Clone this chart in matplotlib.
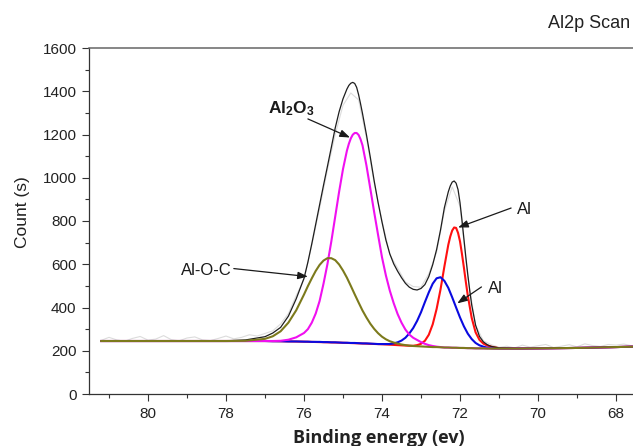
import matplotlib
matplotlib.use('Agg')
import matplotlib.pyplot as plt
from matplotlib.ticker import MultipleLocator

plt.rcParams['font.family'] = ['Liberation Sans', 'DejaVu Sans']
plt.rcParams['mathtext.default'] = 'regular'

# ---------------- data ----------------
energy = [81.2, 80.0, 79.0, 78.0, 77.5, 77.0, 76.8, 76.6, 76.4, 76.2,
          76.0, 75.9, 75.8, 75.7, 75.6, 75.5, 75.4, 75.3, 75.2, 75.1,
          75.0, 74.9, 74.8, 74.7, 74.6, 74.5, 74.4, 74.3, 74.2, 74.1,
          74.0, 73.9, 73.8, 73.7, 73.6, 73.5, 73.4, 73.3, 73.2, 73.1,
          73.0, 72.9, 72.8, 72.7, 72.6, 72.5, 72.4, 72.3, 72.2, 72.1,
          72.0, 71.9, 71.8, 71.7, 71.6, 71.5, 71.4, 71.3, 71.2,
          71.0, 70.5, 70.0, 69.0, 68.0, 67.56]

al_blue = [245, 245, 245, 245, 245, 245, 244, 244, 243, 243,
           242, 242, 241, 241, 241, 240, 240, 239, 239, 238,
           237, 237, 236, 236, 235, 234, 234, 233, 232, 231,
           231, 231, 231, 234, 239, 247, 260, 280, 305, 338,
           378, 425, 470, 510, 535, 540, 523, 491, 447, 400,
           354, 313, 279, 254, 236, 225, 219, 214, 212,
           210, 210, 211, 213, 217, 219]

al_o_c = [245, 245, 245, 245, 246, 255, 267, 290, 330, 387,
          460, 499, 535, 569, 597, 617, 628, 628, 619, 599,
          571, 538, 500, 461, 423, 386, 354, 325, 301, 281,
          265, 253, 244, 238, 233, 229, 226, 224, 222, 221,
          220, 219, 218, 217, 217, 216, 215, 215, 214, 214,
          213, 213, 212, 212, 211, 211, 211, 210, 210,
          210, 210, 211, 213, 217, 219]

red_energy = [81.2, 80.0, 79.0, 78.0, 77.0, 76.0, 75.0, 74.0, 73.5, 73.3,
              73.2, 73.1, 73.0, 72.9, 72.8, 72.7, 72.6, 72.5, 72.4, 72.3,
              72.25, 72.2, 72.15, 72.1, 72.05, 72.0, 71.95, 71.9, 71.85, 71.8,
              71.7, 71.6, 71.5, 71.4, 71.3, 71.2, 71.0, 70.5, 70.0, 69.0,
              68.0, 67.56]
al_red = [245, 245, 245, 245, 245, 242, 237, 230, 225, 223,
          223, 226, 232, 246, 274, 322, 393, 483, 590, 690,
          728, 756, 770, 768, 745, 706, 648, 585, 518, 455,
          352, 285, 250, 233, 224, 219, 212, 210, 211, 213,
          217, 219]

mag_energy = [81.2, 80.0, 79.0, 78.0, 77.0, 76.8, 76.6, 76.4, 76.2, 76.0,
              75.9, 75.8, 75.7, 75.6, 75.5, 75.4, 75.3, 75.2, 75.1, 75.0,
              74.9, 74.85, 74.8, 74.75, 74.7, 74.65, 74.6, 74.55, 74.5, 74.4,
              74.3, 74.2, 74.1, 74.0, 73.9, 73.8, 73.7, 73.6, 73.5, 73.4,
              73.3, 73.2, 73.1, 73.0, 72.9, 72.8, 72.7, 72.6, 72.5, 72.4,
              72.0, 71.5, 71.0, 70.0, 69.0, 68.0, 67.56]
al2o3 = [245, 245, 245, 245, 245, 245, 246, 251, 262, 282,
         300, 330, 372, 430, 510, 600, 705, 820, 935, 1040,
         1125, 1157, 1182, 1199, 1207, 1207, 1198, 1178, 1150, 1058,
         950, 840, 735, 632, 548, 478, 420, 370, 330, 298,
         275, 260, 250, 240, 232, 226, 222, 219, 217, 215,
         213, 211, 210, 211, 213, 217, 219]

env_energy = [81.2, 80.0, 79.0, 78.0, 77.5, 77.0, 76.8, 76.6, 76.4, 76.2,
              76.0, 75.9, 75.8, 75.7, 75.6, 75.5, 75.4, 75.3, 75.2, 75.1,
              75.0, 74.9, 74.85, 74.8, 74.75, 74.7, 74.65, 74.6, 74.55, 74.5,
              74.4, 74.3, 74.2, 74.1, 74.0, 73.9, 73.8, 73.7, 73.6, 73.5,
              73.4, 73.3, 73.2, 73.1, 73.0, 72.9, 72.8, 72.7, 72.6, 72.5,
              72.4, 72.3, 72.25, 72.2, 72.15, 72.1, 72.05, 72.0, 71.95, 71.9,
              71.85, 71.8, 71.75, 71.7, 71.6, 71.5, 71.4, 71.3, 71.2, 71.0,
              70.5, 70.0, 69.0, 68.0, 67.56]
envelope = [245, 245, 245, 246, 250, 265, 282, 308, 360, 440,
            535, 610, 695, 785, 875, 965, 1052, 1140, 1230, 1305,
            1365, 1410, 1427, 1437, 1441, 1436, 1418, 1384, 1342, 1297,
            1200, 1095, 985, 885, 795, 712, 648, 602, 568, 538,
            512, 494, 484, 481, 488, 506, 543, 598, 668, 758,
            862, 935, 962, 980, 985, 975, 945, 885, 805, 718,
            632, 552, 478, 412, 318, 266, 241, 228, 220, 213,
            211, 211, 213, 217, 219]

raw_energy = [81.2, 81.0, 80.8, 80.6, 80.4, 80.2, 80.0, 79.8, 79.6, 79.4,
              79.2, 79.0, 78.8, 78.6, 78.4, 78.2, 78.0, 77.8, 77.6, 77.4,
              77.2, 77.0, 76.8, 76.6, 76.4, 76.2, 76.0, 75.8, 75.6, 75.4,
              75.2, 75.0, 74.8, 74.6, 74.4, 74.2, 74.0, 73.8, 73.6, 73.4,
              73.2, 73.0, 72.8, 72.6, 72.4, 72.2, 72.0, 71.8, 71.6, 71.4,
              71.2, 71.0, 70.8, 70.6, 70.4, 70.2, 70.0, 69.8, 69.6, 69.4,
              69.2, 69.0, 68.8, 68.6, 68.4, 68.2, 68.0, 67.8, 67.6]
raw_counts = [248, 262, 250, 244, 257, 266, 249, 254, 270, 251,
              246, 259, 264, 250, 247, 257, 268, 255, 262, 274,
              268, 280, 292, 324, 372, 455, 530, 688, 858, 1035,
              1200, 1335, 1392, 1360, 1185, 975, 802, 645, 582, 518,
              497, 494, 556, 655, 845, 958, 868, 540, 318, 246,
              228, 216, 221, 213, 226, 217, 223, 229, 215, 221,
              228, 218, 232, 224, 220, 229, 226, 231, 223]

x_ticks = [80, 78, 76, 74, 72, 70, 68]
y_ticks = [0, 200, 400, 600, 800, 1000, 1200, 1400, 1600]

labels = ['Al$_2$O$_3$', 'Al-O-C', 'Al', 'Al']
label_pos = [(76.33, 1318), (78.50, 569), (70.36, 853), (71.10, 486)]
arrow_tail = [(75.90, 1272), (77.80, 580), (70.69, 860), (71.45, 495)]
arrow_head = [(74.82, 1186), (75.90, 543), (72.05, 770), (72.07, 419)]

# ---------------- figure ----------------
fig = plt.figure(figsize=(6.33, 4.46), dpi=100)
ax = fig.add_axes([89 / 633, 52 / 446, 544 / 633, 346 / 446])

ax.plot(raw_energy, raw_counts, color='#dcdcdc', lw=0.8, zorder=1)
ax.plot(red_energy, al_red, color='#ff1010', lw=1.5, zorder=2)
ax.plot(energy, al_blue, color='#0a0ae0', lw=1.5, zorder=3)
ax.plot(mag_energy, al2o3, color='#f010f0', lw=1.5, zorder=4)
ax.plot(env_energy, envelope, color='#1e1e1e', lw=0.9, zorder=5)
ax.plot(energy, al_o_c, color='#7c7a1c', lw=1.5, zorder=6)

ax.set_xlim(81.513, 67.564)
ax.set_ylim(0, 1600)
ax.set_xticks(x_ticks)
ax.set_yticks(y_ticks)
ax.xaxis.set_minor_locator(MultipleLocator(1))
ax.yaxis.set_minor_locator(MultipleLocator(100))
ax.tick_params(which='both', direction='out', colors='#333333',
               labelcolor='#222222', labelsize=11, width=0.8)
ax.tick_params(which='major', length=5, pad=4)
ax.tick_params(which='minor', length=3)

for s in ['left', 'bottom']:
    ax.spines[s].set_color('#333333')
    ax.spines[s].set_linewidth(0.9)
ax.spines['top'].set_color('#666666')
ax.spines['top'].set_linewidth(1.1)
ax.spines['right'].set_visible(False)

ax.set_ylabel('Count (s)', fontsize=12.5, color='#222222')
ax.yaxis.set_label_coords(-0.108, 0.525)

fig.text(379 / 633, 3 / 446, 'Binding energy (ev)', ha='center', va='baseline',
         fontsize=13, fontweight='bold', family=['Open Sans', 'DejaVu Sans'],
         color='#222222')
fig.text(630 / 633, 1 - 28 / 446, 'Al2p Scan', ha='right', va='baseline',
         fontsize=13, color='#222222')

for i, (txt, pos, tail, head) in enumerate(zip(labels, label_pos, arrow_tail, arrow_head)):
    if i == 0:
        ax.text(pos[0], pos[1], txt, ha='center', va='center', fontsize=12.5,
                fontweight='bold', color='#1a1a1a', zorder=8)
    else:
        ax.text(pos[0], pos[1], txt, ha='center', va='center', fontsize=12,
                color='#1a1a1a', zorder=8)
    ax.annotate('', xy=head, xytext=tail,
                arrowprops=dict(arrowstyle='-|>,head_length=0.6,head_width=0.22',
                                color='#1a1a1a', lw=0.9, shrinkA=0, shrinkB=0),
                zorder=8)

fig.savefig('out.png', dpi=100)
